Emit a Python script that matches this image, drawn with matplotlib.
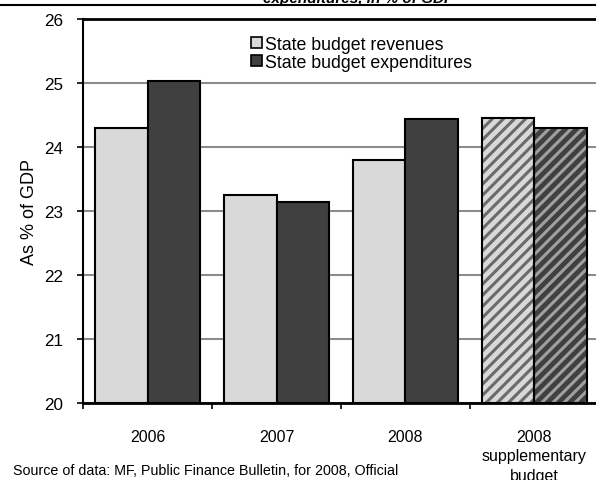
import matplotlib
matplotlib.use("Agg")
import matplotlib.pyplot as plt
from matplotlib.lines import Line2D
from matplotlib.patches import Patch
import numpy as np

categories = ["2006", "2007", "2008", "2008\nsupplementary\nbudget"]
revenues = [24.29, 23.25, 23.80, 24.46]
expenditures = [25.03, 23.14, 24.43, 24.29]
hatched = [False, False, False, True]
yticks = [20, 21, 22, 23, 24, 25, 26]

plt.rcParams['font.family'] = ['Liberation Sans', 'DejaVu Sans']
plt.rcParams['hatch.linewidth'] = 2.2

light = '#d9d9d9'
dark = '#404040'

fig = plt.figure(figsize=(5.96, 4.81), dpi=100)
ax = fig.add_axes([83/596, 1-404/481, (599-83)/596, (404-20)/481])

x = np.arange(len(categories))
w = 0.41
for i in range(len(categories)):
    for val, col, off, hc in [(revenues[i], light, -w/2, '#6a6a6a'),
                              (expenditures[i], dark, w/2, '#a0a0a0')]:
        if hatched[i]:
            ax.bar(x[i]+off, val-20, w, bottom=20, color=col, edgecolor=hc,
                   hatch='///', linewidth=0, zorder=2)
            ax.bar(x[i]+off, val-20, w, bottom=20, facecolor='none',
                   edgecolor='black', linewidth=1.5, zorder=3)
        else:
            ax.bar(x[i]+off, val-20, w, bottom=20, color=col,
                   edgecolor='black', linewidth=1.5, zorder=3)

ax.set_xlim(-0.5, 3.5)
ax.set_ylim(20, 26)
ax.set_yticks(yticks)
ax.tick_params(axis='y', labelsize=12.3, length=4.5, width=1.2, direction='out', pad=10)
ax.yaxis.grid(True, color='#8c8c8c', linewidth=1.5, zorder=0)
ax.set_axisbelow(True)

ax.set_xticks(x)
ax.set_xticklabels(categories, fontsize=11.5, linespacing=1.4)
ax.tick_params(axis='x', length=0, pad=18.5)
ax.set_xticks(np.arange(-0.5, 3.6, 1.0), minor=True)
ax.tick_params(axis='x', which='minor', length=4, width=1.2, direction='out')

for s in ['left', 'bottom', 'top']:
    ax.spines[s].set_color('black')
ax.spines['left'].set_linewidth(1.5)
ax.spines['bottom'].set_linewidth(2)
ax.spines['top'].set_linewidth(2)
ax.spines['right'].set_visible(False)

ax.set_ylabel("As % of GDP", fontsize=13, labelpad=4)

handles = [Patch(facecolor=light, edgecolor='black', linewidth=1.2),
           Patch(facecolor=dark, edgecolor='black', linewidth=1.2)]
ax.legend(handles, ["State budget revenues", "State budget expenditures"],
          loc='upper left', bbox_to_anchor=((251-83)/516, 1-17/384), frameon=False,
          fontsize=12.8, handlelength=0.6, handleheight=0.6, handletextpad=0.2,
          labelspacing=0.05, borderaxespad=0, borderpad=0)

fig.text(359/596, 1-2.5/481, "expenditures, in % of GDP", ha='center', va='baseline',
         fontsize=11, fontweight='bold', style='italic')
fig.add_artist(Line2D([0, 1], [1-6/481, 1-6/481], transform=fig.transFigure,
                      color='black', linewidth=1.5))
fig.text(13/596, 1-475/481, "Source of data: MF, Public Finance Bulletin, for 2008, Official",
         ha='left', va='baseline', fontsize=10.3)

fig.savefig("out.png", dpi=100)
